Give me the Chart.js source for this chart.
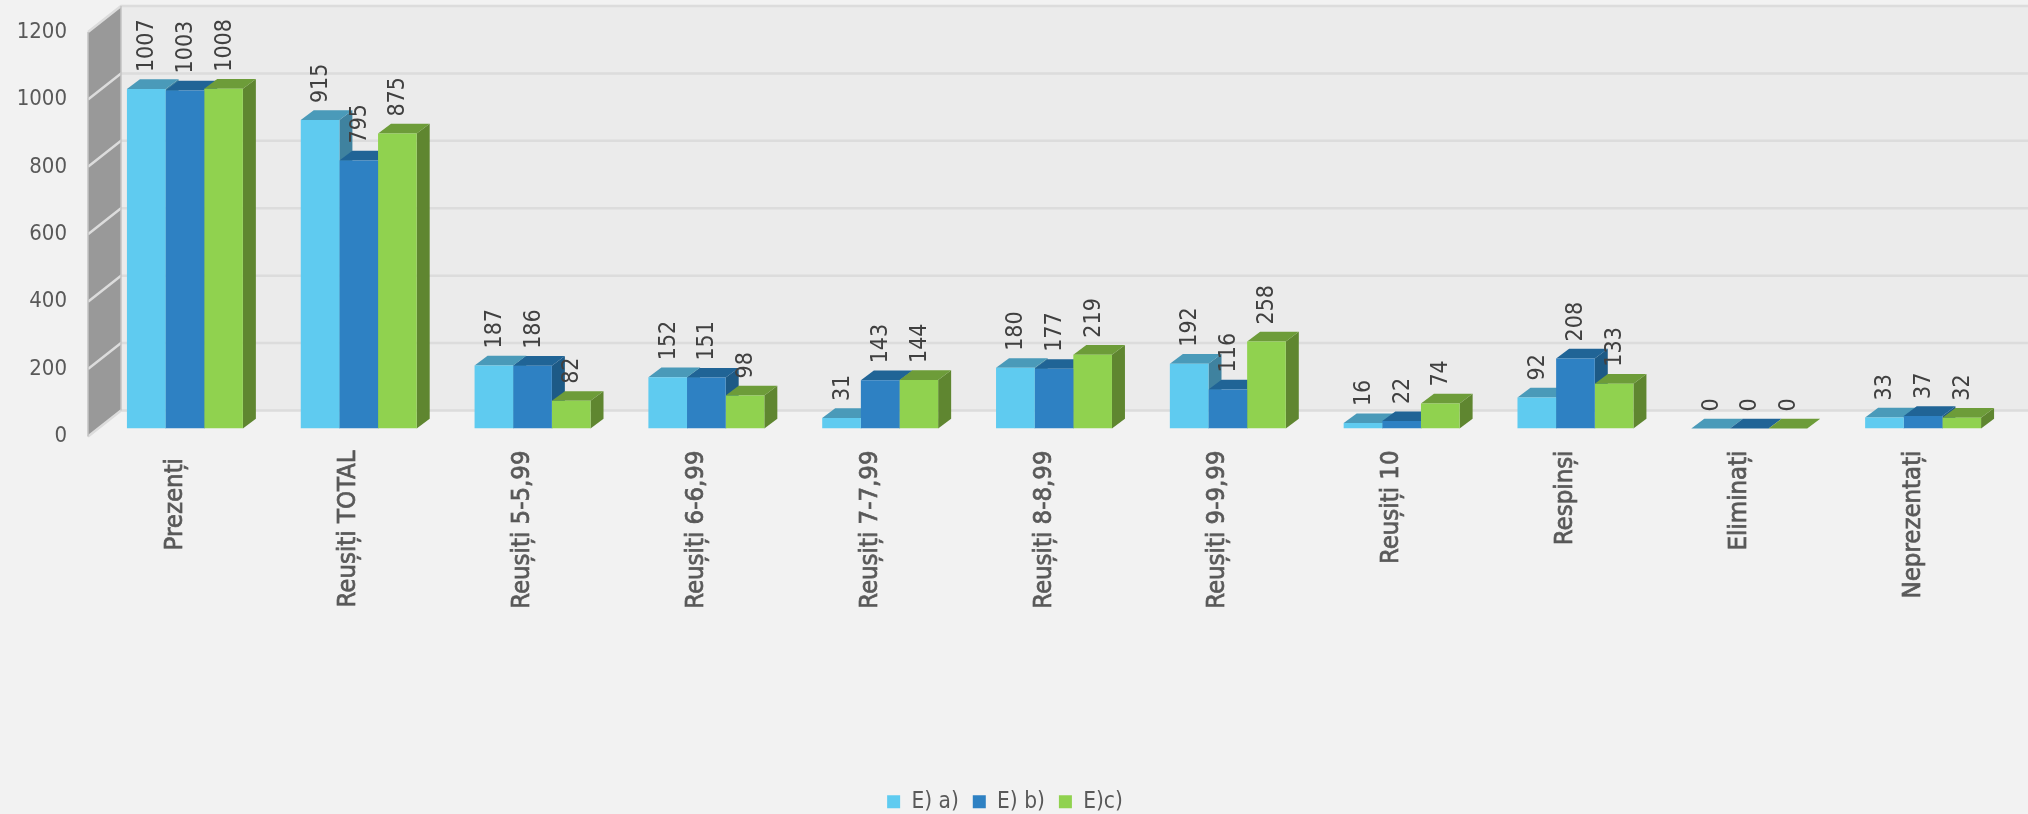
<!DOCTYPE html>
<html>
<head>
<meta charset="utf-8">
<title>Rezultate</title>
<script src="https://cdn.jsdelivr.net/npm/chart.js@4/dist/chart.umd.js"></script>
<style>
  html, body { margin: 0; padding: 0; background: #f2f2f2; }
  #wrap { width: 2028px; height: 814px; }
</style>
</head>
<body>
<div id="wrap"><canvas id="chart"></canvas></div>
<script>
const categories = ["Prezenți", "Reușiți TOTAL", "Reușiți 5-5,99", "Reușiți 6-6,99", "Reușiți 7-7,99",
  "Reușiți 8-8,99", "Reușiți 9-9,99", "Reușiți 10", "Respinși", "Eliminați", "Neprezentați"];
const seriesNames = ["E) a)", "E) b)", "E)c)"];
const valuesA = [1007, 915, 187, 152, 31, 180, 192, 16, 92, 0, 33];
const valuesB = [1003, 795, 186, 151, 143, 177, 116, 22, 208, 0, 37];
const valuesC = [1008, 875, 82, 98, 144, 219, 258, 74, 133, 0, 32];

const frontColors = ["#5fcbf0", "#2e81c3", "#90d24f"];
const topColors = ["#4a9ab9", "#206496", "#6d9c39"];
const sideColors = ["#3f829f", "#1d5a86", "#5f8630"];

const FONT = '"DejaVu Sans Condensed", "DejaVu Sans", sans-serif';
const DEPTH_X = 13, DEPTH_Y = 9.7;   // bar depth
const WALL_BACK_X = 23, WALL_FRONT_X = -10, WALL_BACK_Y = -18, WALL_FRONT_Y = 8;

function poly(ctx, pts, fill) {
  ctx.beginPath();
  pts.forEach((p, i) => i ? ctx.lineTo(p[0], p[1]) : ctx.moveTo(p[0], p[1]));
  ctx.closePath();
  ctx.fillStyle = fill;
  ctx.fill();
}

const walls = {
  id: "walls",
  beforeDatasetsDraw(chart) {
    const { ctx, chartArea, scales: { y } } = chart;
    const bx = chartArea.left + WALL_BACK_X, fx = chartArea.left + WALL_FRONT_X;
    const y0 = y.getPixelForValue(0), yMax = y.getPixelForValue(1200);
    ctx.save();
    ctx.fillStyle = "#ebebeb";
    ctx.fillRect(bx, yMax + WALL_BACK_Y, chart.width - bx, y0 - yMax);
    poly(ctx, [[fx, yMax + WALL_FRONT_Y], [bx, yMax + WALL_BACK_Y], [bx, y0 + WALL_BACK_Y], [fx, y0 + WALL_FRONT_Y]], "#999999");
    ctx.strokeStyle = "#dcdcdc";
    ctx.lineWidth = 2.5;
    y.ticks.forEach(t => {
      const py = y.getPixelForValue(t.value);
      ctx.beginPath();
      ctx.moveTo(fx, py + WALL_FRONT_Y);
      ctx.lineTo(bx, py + WALL_BACK_Y);
      ctx.lineTo(chart.width, py + WALL_BACK_Y);
      ctx.stroke();
    });
    ctx.beginPath();
    ctx.moveTo(fx, yMax + WALL_FRONT_Y);
    ctx.lineTo(fx, y0 + WALL_FRONT_Y);
    ctx.moveTo(bx, yMax + WALL_BACK_Y);
    ctx.lineTo(bx, y0 + WALL_BACK_Y);
    ctx.lineWidth = 1.5;
    ctx.strokeStyle = "#c4c4c4";
    ctx.stroke();

    // side and top faces, the library paints the front faces after this
    chart.data.datasets.forEach((ds, i) => {
      chart.getDatasetMeta(i).data.forEach(bar => {
        const l = bar.x - bar.width / 2, r = bar.x + bar.width / 2;
        poly(ctx, [[r, bar.y], [r + DEPTH_X, bar.y - DEPTH_Y], [r + DEPTH_X, bar.base - DEPTH_Y], [r, bar.base]], sideColors[i]);
        poly(ctx, [[l, bar.y], [l + DEPTH_X, bar.y - DEPTH_Y], [r + DEPTH_X, bar.y - DEPTH_Y], [r, bar.y]], topColors[i]);
      });
    });
    ctx.restore();
  },
  afterDatasetsDraw(chart) {
    const { ctx, scales: { x } } = chart;
    ctx.save();
    // value labels
    ctx.font = "23px " + FONT;
    ctx.fillStyle = "#404040";
    ctx.textAlign = "left";
    ctx.textBaseline = "middle";
    chart.data.datasets.forEach((ds, i) => {
      chart.getDatasetMeta(i).data.forEach((bar, j) => {
        ctx.save();
        ctx.translate(bar.x + 1, bar.y - 17);
        ctx.rotate(-Math.PI / 2);
        ctx.fillText(String(ds.data[j]), 0, 0);
        ctx.restore();
      });
    });
    // category labels, hung from the top like the original
    ctx.font = "25.5px " + FONT;
    ctx.fillStyle = "#595959";
    ctx.strokeStyle = "#595959";
    ctx.lineWidth = 0.7;
    ctx.textAlign = "right";
    categories.forEach((c, j) => {
      ctx.save();
      ctx.translate(x.getPixelForTick(j) - 10, c === "Prezenți" ? 458 : 450.5);
      ctx.rotate(-Math.PI / 2);
      ctx.fillText(c, 0, 0);
      ctx.strokeText(c, 0, 0);
      ctx.restore();
    });
    ctx.restore();
  }
};

new Chart(document.getElementById("chart"), {
  type: "bar",
  data: {
    labels: categories,
    datasets: [
      { label: seriesNames[0], data: valuesA, backgroundColor: frontColors[0] },
      { label: seriesNames[1], data: valuesB, backgroundColor: frontColors[1] },
      { label: seriesNames[2], data: valuesC, backgroundColor: frontColors[2] }
    ]
  },
  options: {
    responsive: true,
    maintainAspectRatio: false,
    animation: false,
    layout: { padding: { top: 24, right: 18, bottom: -9, left: 0 } },
    datasets: { bar: { categoryPercentage: 0.667, barPercentage: 1, borderWidth: 0 } },
    scales: {
      x: {
        grid: { display: false },
        border: { display: false },
        ticks: { display: false },
        afterFit(scale) { scale.height = 348; }
      },
      y: {
        min: 0,
        max: 1200,
        grid: { display: false },
        border: { display: false },
        ticks: {
          stepSize: 200,
          padding: 23,
          labelOffset: 8,
          color: "#595959",
          font: { family: FONT, size: 22 },
          callback: v => String(v)
        },
        afterFit(scale) {
          scale.width = 98;
          scale.paddingTop = 0;
          scale.paddingBottom = 0;
        }
      }
    },
    plugins: {
      tooltip: { enabled: false },
      legend: {
        position: "bottom",
        labels: {
          boxWidth: 13,
          boxHeight: 13,
          padding: 14,
          color: "#595959",
          font: { family: FONT, size: 22.5 }
        }
      }
    }
  },
  plugins: [walls]
});
</script>
</body>
</html>
